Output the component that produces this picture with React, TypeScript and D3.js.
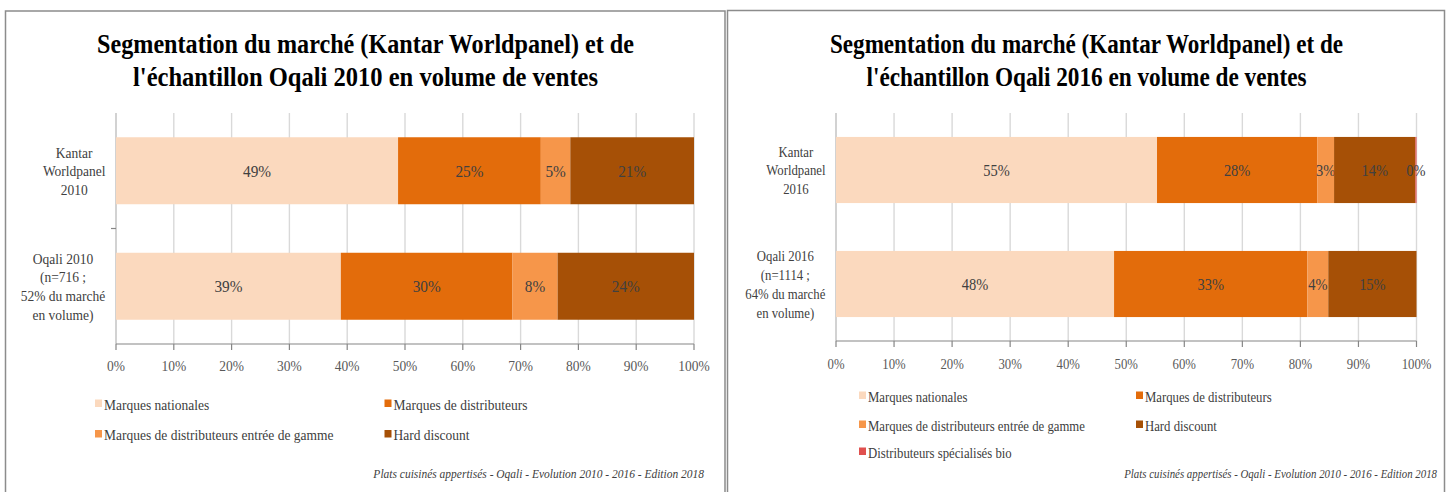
import { useEffect, useRef } from 'react';
import * as d3 from 'd3';

// segments (stack order) and their colours
const segments = [
    'Marques nationales',
    'Marques de distributeurs',
    'Marques de distributeurs entrée de gamme',
    'Hard discount',
    'Distributeurs spécialisés bio',
];
const segmentColors = ['#FBD9BE', '#E36C0B', '#F6964A', '#A65006', '#E0504E'];

// values (% of sales volume)
const kantar2010 = [48.8, 24.7, 5.1, 21.4];
const oqali2010 = [38.9, 29.7, 7.8, 23.6];
const kantar2016 = [55.3, 27.6, 2.9, 14.0, 0.2];
const oqali2016 = [47.9, 33.3, 3.6, 15.2, 0];

const rowLabels2010 = [
    ['Kantar', 'Worldpanel', '2010'],
    ['Oqali 2010', '(n=716 ;', '52% du marché', 'en volume)'],
];
const rowLabels2016 = [
    ['Kantar', 'Worldpanel', '2016'],
    ['Oqali 2016', '(n=1114 ;', '64% du marché', 'en volume)'],
];

const title2010 = ['Segmentation du marché (Kantar Worldpanel) et de', "l'échantillon Oqali 2010 en volume de ventes"];
const title2016 = ['Segmentation du marché (Kantar Worldpanel) et de', "l'échantillon Oqali 2016 en volume de ventes"];
const footer = 'Plats cuisinés appertisés - Oqali - Evolution 2010 - 2016 - Edition 2018';

const FONT = '"Liberation Serif", "DejaVu Serif", serif';

const drawPanel = (svg, p) => {
    const g = svg.append('g');
    const nSeg = p.rows[0].length;
    const keys = segments.slice(0, nSeg);

    // frame (bottom edge is outside the picture)
    const fx0 = p.frame.x, fx1 = p.frame.x + p.frame.w, fy = p.frame.y;
    g.append('path')
        .attr('d', `M${fx0},492 L${fx0},${fy} L${fx1},${fy} L${fx1},492`)
        .attr('fill', 'none')
        .attr('stroke', '#8C8C8C')
        .attr('stroke-width', 1.5);

    // title
    p.title.forEach((t, i) => {
        g.append('text')
            .attr('x', p.titleCx)
            .attr('y', [53, 86][i])
            .attr('text-anchor', 'middle')
            .attr('font-family', FONT)
            .attr('font-weight', 'bold')
            .attr('font-size', 27)
            .attr('textLength', p.titleW[i])
            .attr('lengthAdjust', 'spacingAndGlyphs')
            .attr('fill', '#000')
            .text(t);
    });

    const x = d3.scaleLinear().domain([0, 100]).range([p.x0, p.x1]);
    const y = d3.scaleBand()
        .domain(['a', 'b'])
        .range([p.top, p.bottom])
        .paddingInner(0.42)
        .paddingOuter(0.21);

    // gridlines
    g.append('g').selectAll('line')
        .data(x.ticks(10))
        .enter()
        .append('line')
        .attr('x1', d => x(d)).attr('x2', d => x(d))
        .attr('y1', p.top).attr('y2', p.bottom)
        .attr('stroke', d => (d === 0 ? '#BFBFBF' : '#D9D9D9'))
        .attr('stroke-width', 1.4);

    // stacked bars
    const table = p.rows.map((r, i) => {
        const o = { row: ['a', 'b'][i] };
        keys.forEach((k, j) => { o[k] = r[j]; });
        return o;
    });
    const stacked = d3.stack().keys(keys)(table);
    stacked.forEach((layer, j) => {
        const lg = g.append('g');
        lg.selectAll('rect')
            .data(layer)
            .enter()
            .append('rect')
            .attr('x', d => x(d[0]))
            .attr('y', d => y(d.data.row))
            .attr('width', d => x(d[1]) - x(d[0]))
            .attr('height', y.bandwidth())
            .attr('fill', segmentColors[j]);
        lg.selectAll('text')
            .data(layer.filter(d => d[1] - d[0] > 0))
            .enter()
            .append('text')
            .attr('transform', d => `translate(${(x(d[0]) + x(d[1])) / 2},${y(d.data.row) + y.bandwidth() / 2 + 6}) scale(${0.9 * p.sx},1)`)
            .attr('text-anchor', 'middle')
            .attr('font-family', FONT)
            .attr('font-size', 17)
            .attr('fill', '#404040')
            .text(d => `${Math.round(d[1] - d[0])}%`);
    });

    // x axis
    g.append('line')
        .attr('x1', p.x0).attr('x2', p.x1)
        .attr('y1', p.bottom).attr('y2', p.bottom)
        .attr('stroke', '#868686').attr('stroke-width', 1.2);
    x.ticks(10).forEach(t => {
        g.append('line')
            .attr('x1', x(t)).attr('x2', x(t))
            .attr('y1', p.bottom).attr('y2', p.bottom + 6)
            .attr('stroke', '#868686').attr('stroke-width', 1.2);
        g.append('text')
            .attr('transform', `translate(${x(t)},${p.tickY}) scale(${0.9 * p.sx},1)`)
            .attr('text-anchor', 'middle')
            .attr('font-family', FONT)
            .attr('font-size', 15)
            .attr('fill', '#595959')
            .text(`${t}%`);
    });

    // y axis tick between the two bars
    if (p.yTick) {
        const mid = (p.top + p.bottom) / 2;
        g.append('line')
            .attr('x1', p.x0 - 5).attr('x2', p.x0)
            .attr('y1', mid).attr('y2', mid)
            .attr('stroke', '#868686').attr('stroke-width', 1.2);
    }

    // category labels (block right aligned, lines centred)
    p.rowLabels.forEach((lines, i) => {
        const cy = y(['a', 'b'][i]) + y.bandwidth() / 2;
        const lab = g.append('g');
        lines.forEach((l, k) => {
            lab.append('text')
                .attr('x', 0)
                .attr('y', cy + 5.5 + (k - (lines.length - 1) / 2) * 18.7)
                .attr('text-anchor', 'middle')
                .attr('font-family', FONT)
                .attr('font-size', 15)
                .attr('fill', '#404040')
                .text(l);
        });
        const w = lab.node().getBBox().width * 0.9 * p.sx;
        lab.attr('transform', `translate(${p.x0 - 10.5 - w / 2},0) scale(${0.9 * p.sx},1)`);
    });

    // legend
    keys.forEach((k, i) => {
        const lx = p.legendCols[i % 2];
        const ly = p.legendRows[Math.floor(i / 2)];
        g.append('rect')
            .attr('x', lx).attr('y', ly - 10)
            .attr('width', 7).attr('height', 7.5)
            .attr('fill', segmentColors[i]);
        g.append('text')
            .attr('transform', `translate(${lx + 9},${ly}) scale(${0.9 * p.sx},1)`)
            .attr('font-family', FONT)
            .attr('font-size', 15)
            .attr('fill', '#404040')
            .text(k);
    });

    // source note, squeezed to the width seen in the picture
    const note = g.append('text')
        .attr('text-anchor', 'end')
        .attr('font-family', FONT)
        .attr('font-style', 'italic')
        .attr('font-size', 13)
        .attr('fill', '#404040')
        .text(footer);
    const natural = note.node().getComputedTextLength() || p.footerW;
    note.attr('transform', `translate(${p.footerRight},478) scale(${p.footerW / natural},1)`);
};

const App = () => {
    const svgRef = useRef(null);

    useEffect(() => {
        const svg = d3.select(svgRef.current);
        svg.selectAll('*').remove();

        svg.append('rect').attr('width', 1452).attr('height', 492).attr('fill', 'white');

        drawPanel(svg, {
            rows: [kantar2010, oqali2010],
            rowLabels: rowLabels2010,
            title: title2010,
            frame: { x: 5.5, y: 11, w: 719.5 },
            titleCx: 365.5,
            titleW: [537, 465],
            x0: 116, x1: 694, top: 113, bottom: 344,
            tickY: 371,
            legendCols: [95, 384.5],
            legendRows: [409.5, 440],
            footerRight: 704, footerW: 331,
            sx: 1,
            yTick: true,
        });

        drawPanel(svg, {
            rows: [kantar2016, oqali2016],
            rowLabels: rowLabels2016,
            title: title2016,
            frame: { x: 727.5, y: 10.5, w: 717 },
            titleCx: 1086.5,
            titleW: [513, 440],
            x0: 836, x1: 1416.5, top: 113, bottom: 341,
            tickY: 369,
            legendCols: [859, 1136],
            legendRows: [401.5, 430.5, 457.5],
            footerRight: 1437, footerW: 313,
            sx: 0.945,
            yTick: false,
        });
    }, []);

    return (
        <svg
            ref={svgRef}
            width={1452}
            height={492}
            style={{ position: 'absolute', left: 0, top: 0, display: 'block' }}
        />
    );
};

export default App;
